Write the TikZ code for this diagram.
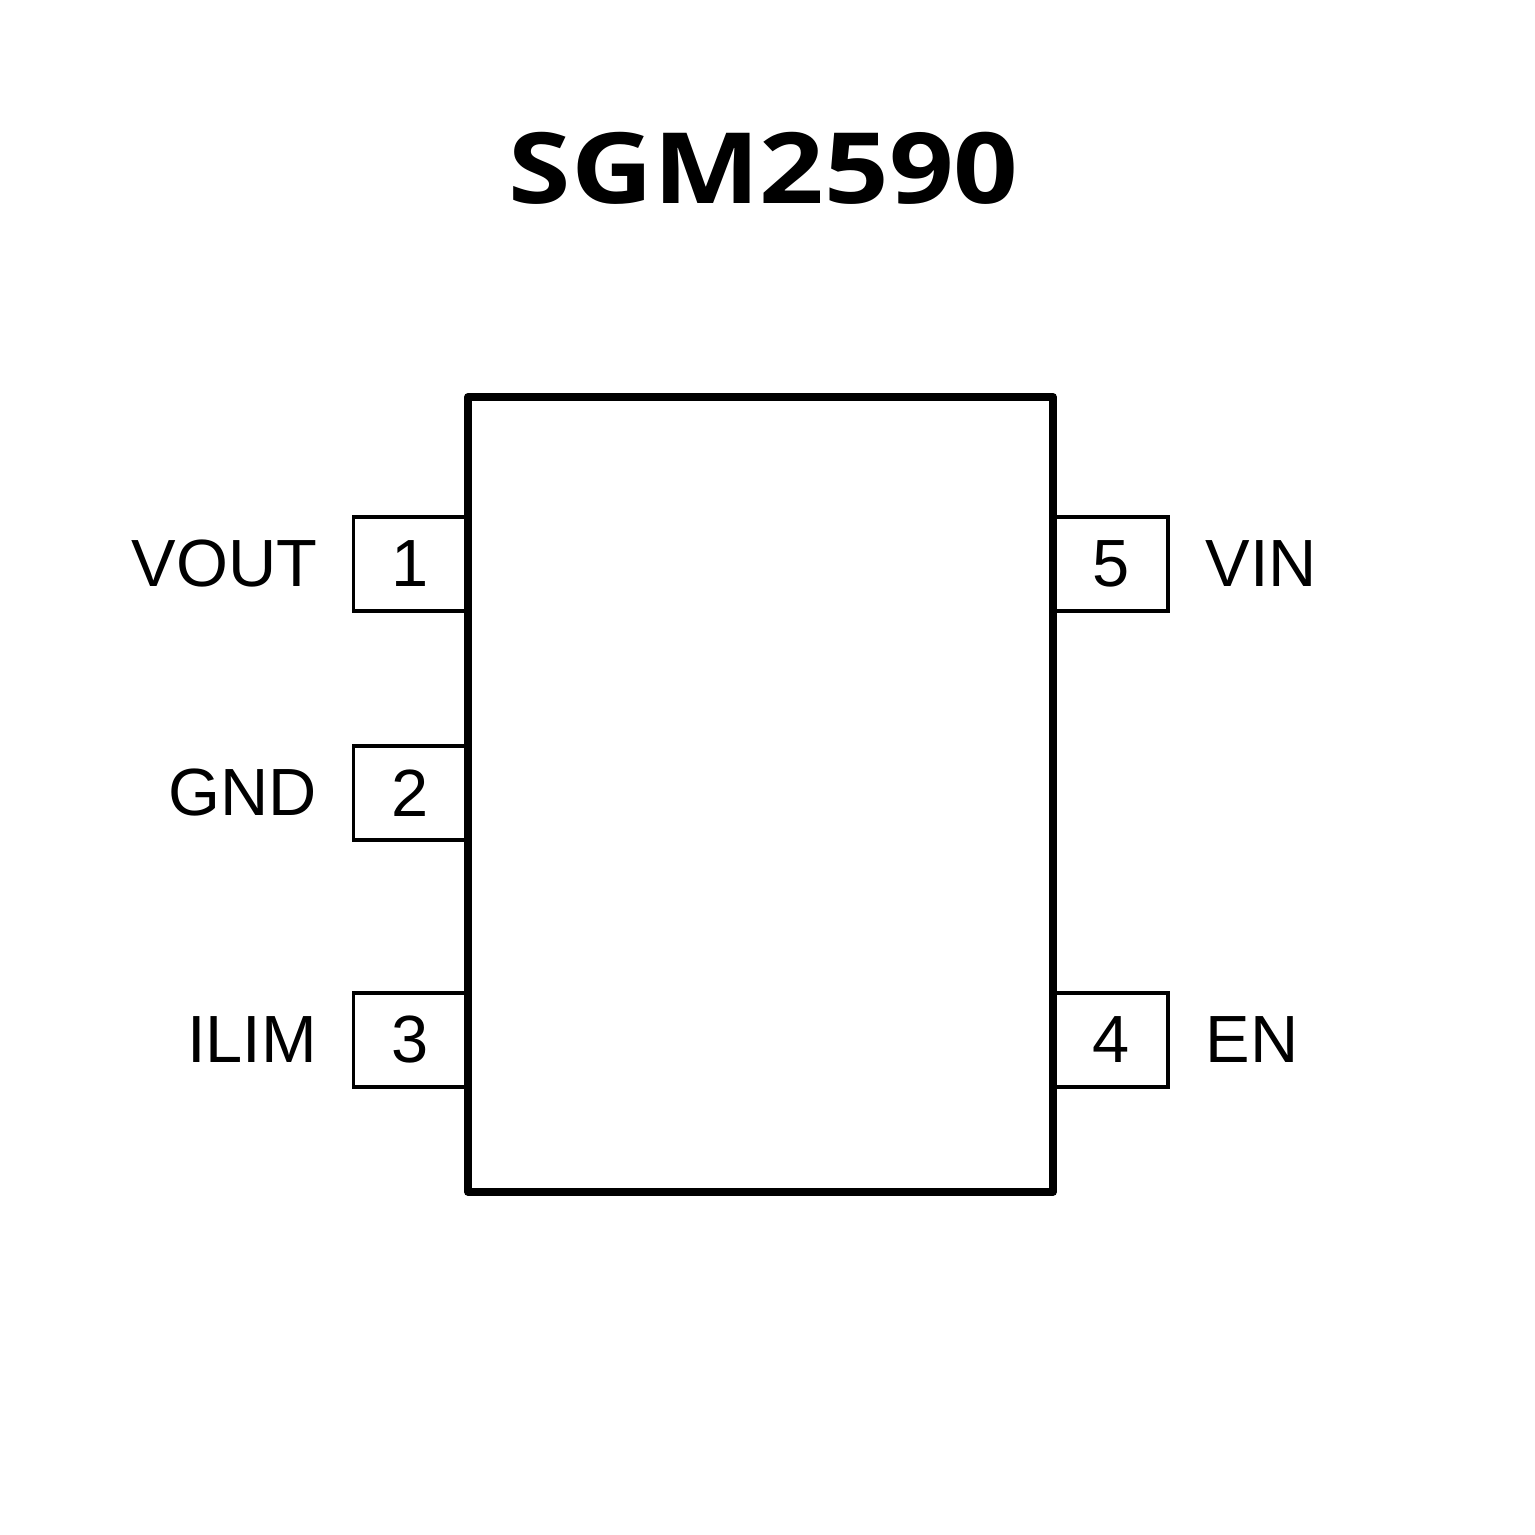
\documentclass[tikz,border=0pt]{standalone}
\usepackage{fontspec}
\setmainfont{Liberation Sans}
\newfontfamily\titlefont{Open Sans}
\usepackage{tikz}
\usetikzlibrary{positioning}

\begin{document}
\begin{tikzpicture}[
        pinbox/.style={draw, line width=1pt, minimum width=1.13cm, minimum height=0.94cm,
            inner sep=0pt, font=\fontsize{19}{23}\selectfont},
        pinname/.style={font=\fontsize{19}{23}\selectfont, inner sep=0pt}
    ]
        \useasboundingbox (0,0) rectangle (15.35,15.35);

        % Title
        \node[font=\titlefont\bfseries\fontsize{28}{34}\selectfont] (title) at (7.635,13.67)
            {\scalebox{1.15}[1]{SGM2590}};

        % Left pins
        \node[pinbox] (p1) at (4.10,9.71) {1};
        \node[pinbox] (p2) at (4.10,7.42) {2};
        \node[pinbox] (p3) at (4.10,4.95) {3};

        % Right pins
        \node[pinbox] (p5) at (11.115,9.71) {5};
        \node[pinbox] (p4) at (11.115,4.95) {4};

        % Package body
        \draw[line width=2.2pt, line join=round, fill=white] (4.68,3.43) rectangle (10.53,11.38);

        % Pin names
        \node[pinname, left=0.34cm of p1] (n1) {VOUT};
        \node[pinname, left=0.34cm of p2] (n2) {GND};
        \node[pinname, left=0.34cm of p3] (n3) {ILIM};
        \node[pinname, right=0.35cm of p5] (n5) {VIN};
        \node[pinname, right=0.35cm of p4] (n4) {EN};
    \end{tikzpicture}
\end{document}
